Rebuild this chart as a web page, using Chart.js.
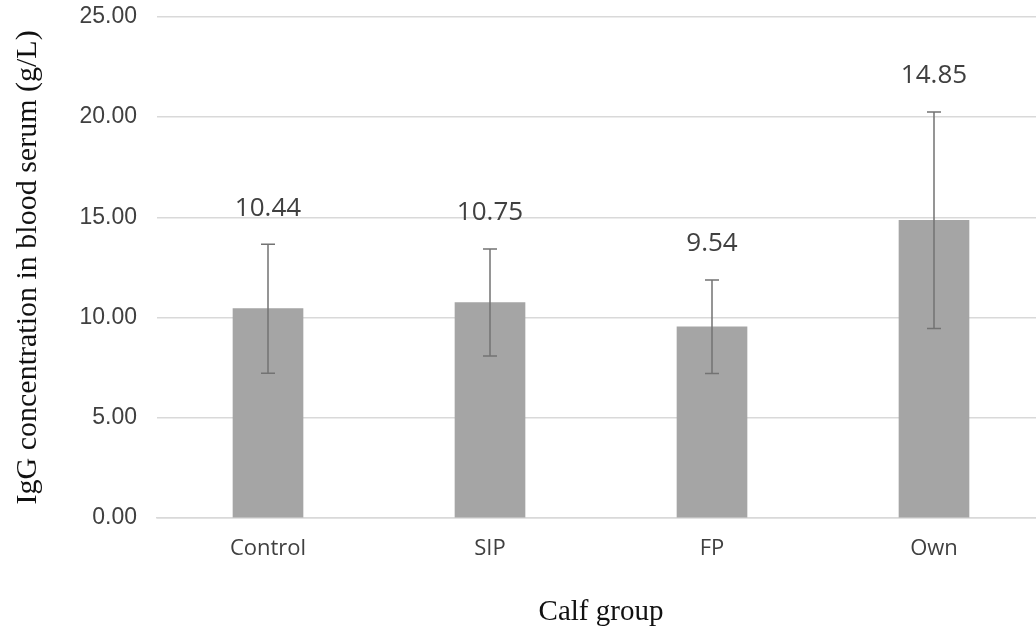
<!DOCTYPE html>
<html lang="en">
<head>
    <meta charset="UTF-8">
    <title>IgG concentration by calf group</title>
    <style>
        html, body {
            margin: 0;
            padding: 0;
            background: #ffffff;
            overflow: hidden;
        }
        #wrap {
            width: 1045px;
            height: 630px;
        }
    </style>
    <script src="https://cdn.jsdelivr.net/npm/chart.js"></script>
</head>
<body>
    <div id="wrap"><canvas id="iggChart"></canvas></div>

    <script>
        // data
        const groups = ['Control', 'SIP', 'FP', 'Own'];
        const meanIgG = [10.44, 10.75, 9.54, 14.85];
        const sdIgG = [3.22, 2.67, 2.33, 5.40];
        const yTicks = [0, 5, 10, 15, 20, 25];

        const barColor = '#a5a5a5';
        const errColor = '#737373';
        const textColor = '#404040';

        // error bars + value labels, drawn after the bars
        const errorBarPlugin = {
            id: 'errorBars',
            afterDatasetsDraw(chart) {
                const ctx = chart.ctx;
                const yScale = chart.scales.y;
                const meta = chart.getDatasetMeta(0);
                ctx.save();
                meta.data.forEach((bar, i) => {
                    const x = bar.x;
                    const yTop = yScale.getPixelForValue(meanIgG[i] + sdIgG[i]);
                    const yBot = yScale.getPixelForValue(meanIgG[i] - sdIgG[i]);
                    ctx.strokeStyle = errColor;
                    ctx.lineWidth = 1.5;
                    ctx.beginPath();
                    ctx.moveTo(x, yTop);
                    ctx.lineTo(x, yBot);
                    ctx.moveTo(x - 7, yTop);
                    ctx.lineTo(x + 7, yTop);
                    ctx.moveTo(x - 7, yBot);
                    ctx.lineTo(x + 7, yBot);
                    ctx.stroke();

                    ctx.fillStyle = textColor;
                    ctx.font = '26px "Open Sans", sans-serif';
                    ctx.textAlign = 'center';
                    ctx.textBaseline = 'middle';
                    ctx.fillText(meanIgG[i].toFixed(2), x, yTop - 36);
                });
                ctx.restore();
            }
        };

        const ctx = document.getElementById('iggChart').getContext('2d');
        const iggChart = new Chart(ctx, {
            type: 'bar',
            data: {
                labels: groups,
                datasets: [{
                    label: 'IgG',
                    data: meanIgG,
                    backgroundColor: barColor,
                    borderWidth: 0,
                    barThickness: 70
                }]
            },
            options: {
                responsive: true,
                maintainAspectRatio: false,
                animation: false,
                layout: {
                    padding: 0
                },
                plugins: {
                    legend: { display: false },
                    tooltip: { enabled: false }
                },
                scales: {
                    x: {
                        grid: { display: false },
                        border: { color: '#d9d9d9', width: 1.5 },
                        ticks: {
                            color: textColor,
                            font: { family: '"Open Sans", sans-serif', size: 22 },
                            padding: 10
                        },
                        title: {
                            display: true,
                            text: 'Calf group',
                            color: '#111',
                            font: { family: '"Liberation Serif", "Times New Roman", serif', size: 29 },
                            padding: { top: 11, bottom: 0 }
                        },
                        afterFit(scale) {
                            scale.height = 112;
                        }
                    },
                    y: {
                        min: 0,
                        max: 25,
                        afterBuildTicks(scale) {
                            scale.ticks = yTicks.map(v => ({ value: v }));
                        },
                        grid: {
                            color: '#d9d9d9',
                            lineWidth: 1.5,
                            drawTicks: true,
                            tickLength: 17,
                            tickColor: 'rgba(0,0,0,0)'
                        },
                        border: { display: false },
                        ticks: {
                            color: textColor,
                            font: { family: '"Liberation Sans", Arial, sans-serif', size: 23 },
                            padding: 3,
                            callback: v => v.toFixed(2)
                        },
                        title: {
                            display: true,
                            text: 'IgG concentration in blood serum (g/L)',
                            color: '#111',
                            font: { family: '"Liberation Serif", "Times New Roman", serif', size: 30 },
                            padding: { top: 10, bottom: 0 }
                        },
                        afterFit(scale) {
                            scale.width = 157;
                        }
                    }
                }
            },
            plugins: [errorBarPlugin]
        });
    </script>
</body>
</html>
